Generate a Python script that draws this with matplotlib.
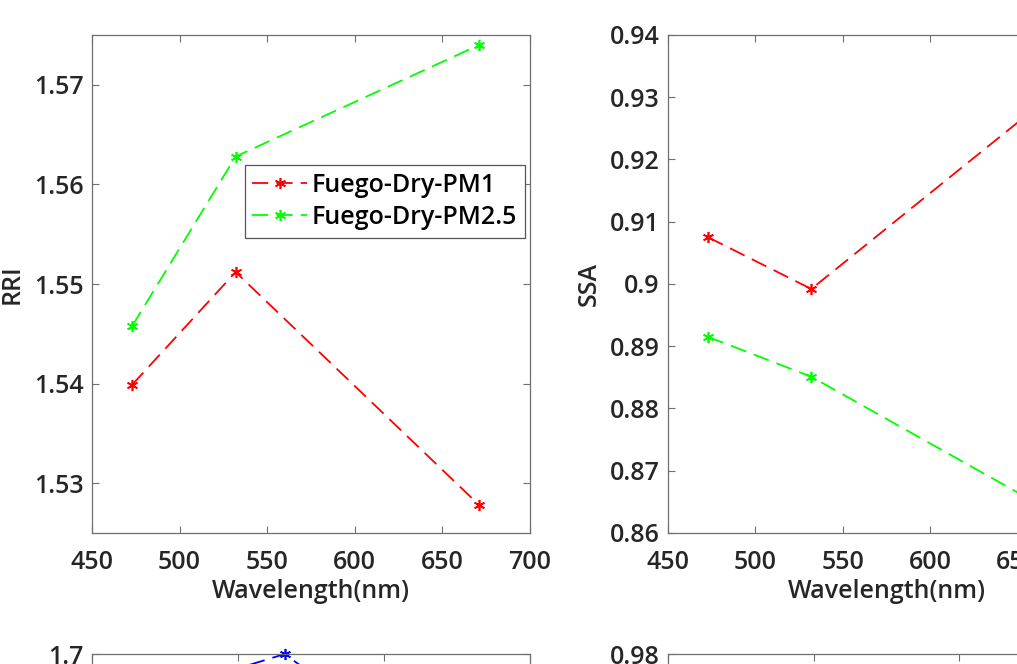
import matplotlib
matplotlib.use("Agg")
import matplotlib.pyplot as plt

plt.rcParams['font.family'] = ['Open Sans', 'DejaVu Sans']
plt.rcParams['font.weight'] = 'semibold'
plt.rcParams['axes.labelweight'] = 'semibold'

wavelength = [473, 532, 671]
rri_pm1 = [1.5399, 1.5512, 1.5278]
rri_pm25 = [1.5458, 1.5628, 1.5740]
ssa_pm1 = [0.9075, 0.8992, 0.9307]
ssa_pm25 = [0.8915, 0.8851, 0.8632]
bottom_blue = [1.684, 1.700, 1.610]

labels = ['Fuego-Dry-PM1', 'Fuego-Dry-PM2.5']
rri_ticks = [1.53, 1.54, 1.55, 1.56, 1.57]
ssa_ticks = [0.86, 0.87, 0.88, 0.89, 0.90, 0.91, 0.92, 0.93, 0.94]
ssa_ticklabels = ['0.86', '0.87', '0.88', '0.89', '0.9', '0.91', '0.92', '0.93', '0.94']

W, H = 1017, 664
fig = plt.figure(figsize=(W / 100, H / 100), dpi=100)

TXT = '#262626'
AX = '#6e6e6e'
FS = 18


def px_axes(l, t, r, b):
    return fig.add_axes([l / W, (H - b) / H, (r - l) / W, (b - t) / H])


def style(ax):
    for s in ax.spines.values():
        s.set_color(AX)
        s.set_linewidth(0.9)
    ax.tick_params(direction='in', length=5, width=0.8, color=AX,
                   labelsize=FS, labelcolor=TXT, top=True, right=True)
    ax.tick_params(axis='x', pad=12)
    ax.tick_params(axis='y', pad=6)


lk = dict(linestyle=(0, (9, 4.5)), linewidth=1.3, marker=(6, 2, 0),
          markersize=8, markeredgewidth=1.2)

# top-left
ax1 = px_axes(92, 35, 530, 533)
ax1.plot(wavelength, rri_pm1, color='#ff0000', label=labels[0], **lk)
ax1.plot(wavelength, rri_pm25, color='#00ff00', label=labels[1], **lk)
ax1.set_xlim(450, 700)
ax1.set_ylim(1.525, 1.575)
ax1.set_xticks([450, 500, 550, 600, 650, 700])
ax1.set_yticks(rri_ticks)
ax1.set_yticklabels([f'{v:.2f}' for v in rri_ticks])
ax1.set_xlabel('Wavelength(nm)', fontsize=FS, color=TXT, labelpad=3)
ax1.set_ylabel('RRI', fontsize=FS, color=TXT, labelpad=7)
style(ax1)
leg = ax1.legend(loc='upper right', bbox_to_anchor=((525) / W, (H - 165) / H),
                 bbox_transform=fig.transFigure, fontsize=FS, frameon=True,
                 fancybox=False, edgecolor='#555555', framealpha=1,
                 handlelength=2.2, handletextpad=0.2, borderpad=0.3,
                 labelspacing=0.3, borderaxespad=0)
leg.get_frame().set_linewidth(0.9)
for t in leg.get_texts():
    t.set_color('black')

# top-right
ax2 = px_axes(668, 35, 1105, 533)
ax2.plot(wavelength, ssa_pm1, color='#ff0000', **lk)
ax2.plot(wavelength, ssa_pm25, color='#00ff00', **lk)
ax2.set_xlim(450, 700)
ax2.set_ylim(0.86, 0.94)
ax2.set_xticks([450, 500, 550, 600, 650, 700])
ax2.set_yticks(ssa_ticks)
ax2.set_yticklabels(ssa_ticklabels)
ax2.set_xlabel('Wavelength(nm)', fontsize=FS, color=TXT, labelpad=3)
ax2.set_ylabel('SSA', fontsize=FS, color=TXT, labelpad=6)
style(ax2)

# bottom-left
ax3 = px_axes(92, 654, 530, 1152)
ax3.plot(wavelength, bottom_blue, color='#0000ff', clip_on=False, **lk)
ax3.set_xlim(400, 700)
ax3.set_ylim(1.4, 1.7)
ax3.set_xticks([400, 500, 600, 700])
ax3.set_yticks([1.4, 1.5, 1.6, 1.7])
ax3.set_yticklabels(['1.4', '1.5', '1.6', '1.7'])
style(ax3)

# bottom-right
ax4 = px_axes(668, 654, 1105, 1152)
ax4.set_xlim(400, 700)
ax4.set_ylim(0.90, 0.98)
ax4.set_xticks([400, 500, 600, 700])
ax4.set_yticks([0.90, 0.92, 0.94, 0.96, 0.98])
ax4.set_yticklabels(['0.9', '0.92', '0.94', '0.96', '0.98'])
style(ax4)

fig.savefig('out.png', dpi=100)
